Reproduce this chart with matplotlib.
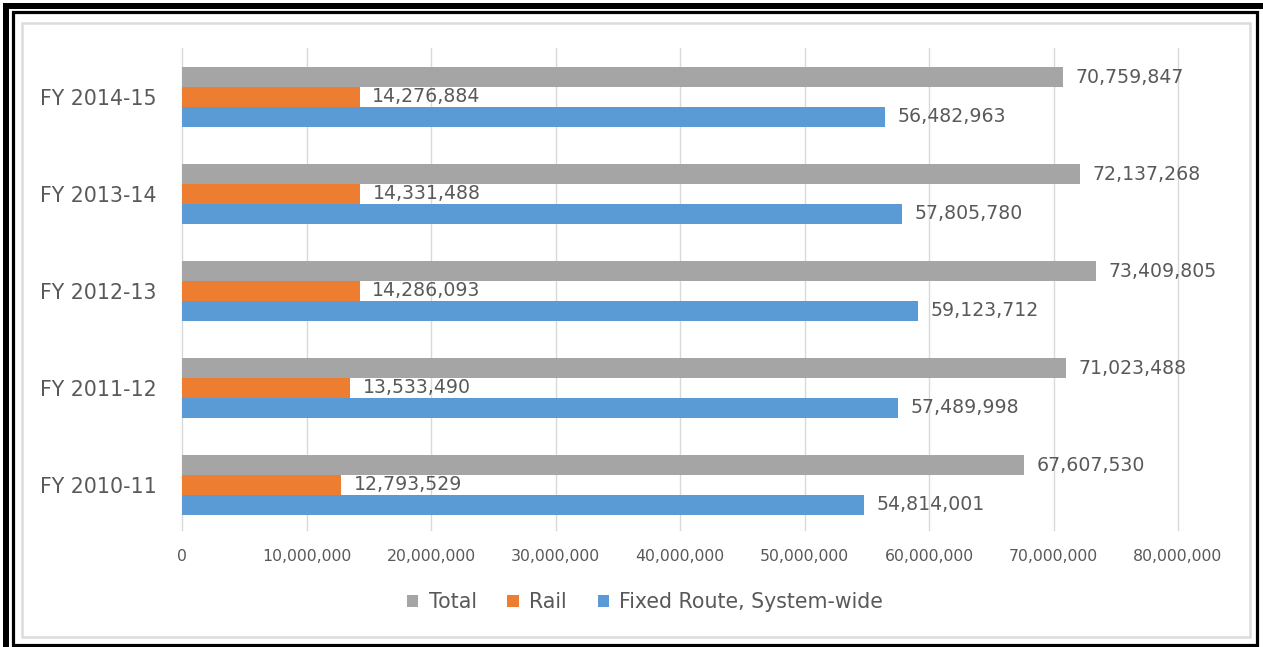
import matplotlib
matplotlib.use("Agg")
import matplotlib.pyplot as plt
from matplotlib.patches import Rectangle
from matplotlib.ticker import FuncFormatter, MultipleLocator

categories = ["FY 2010-11", "FY 2011-12", "FY 2012-13", "FY 2013-14", "FY 2014-15"]
total = [67607530, 71023488, 73409805, 72137268, 70759847]
rail = [12793529, 13533490, 14286093, 14331488, 14276884]
fixed_route = [54814001, 57489998, 59123712, 57805780, 56482963]

series_names = ["Total", "Rail", "Fixed Route, System-wide"]
colors = ["#A5A5A5", "#ED7D31", "#5B9BD5"]

plt.rcParams["font.family"] = ["DejaVu Sans"]
text_color = "#595959"

W, H = 1263, 647
fig = plt.figure(figsize=(W / 100, H / 100), dpi=100)
ax = fig.add_axes([182 / W, 1 - 530 / H, (1178 - 182) / W, (530 - 48) / H])

bh = 0.205
offsets = [bh, 0.0, -bh]
for vals, off, col, name in zip([total, rail, fixed_route], offsets, colors, series_names):
    ys = [i + off for i in range(len(categories))]
    ax.barh(ys, vals, height=bh, color=col, label=name, zorder=3)
    for y, v in zip(ys, vals):
        ax.annotate(f"{v:,}", xy=(v, y), xytext=(9, 0), textcoords="offset points",
                    va="center", ha="left", fontsize=13.6, color=text_color, zorder=4)

ax.set_xlim(0, 80000000)
ax.set_ylim(-0.464, 4.505)
ax.xaxis.set_major_locator(MultipleLocator(10000000))
ax.xaxis.set_major_formatter(FuncFormatter(lambda x, p: f"{int(x):,}"))
ax.set_yticks(range(len(categories)))
ax.set_yticklabels(categories)
ax.tick_params(axis="x", length=0, labelsize=11.3, labelcolor=text_color, pad=14)
ax.tick_params(axis="y", length=0, labelsize=14.8, labelcolor=text_color, pad=18)
ax.grid(axis="x", color="#D9D9D9", linewidth=1, zorder=0)
for gl in ax.get_xgridlines():
    gl.set_clip_on(False)
for s in ax.spines.values():
    s.set_visible(False)

handles, labels = ax.get_legend_handles_labels()
fig.legend(handles, labels, loc="center", bbox_to_anchor=(645 / W, 1 - 602 / H), ncol=3,
           frameon=False, fontsize=14.8, labelcolor=text_color, handlelength=0.55,
           handleheight=0.55, columnspacing=1.5, handletextpad=0.5)

# frame lines around the chart (pixel coordinates, origin top-left)
def px_rect(x0, y0, x1, y1, **kw):
    fig.patches.append(Rectangle((x0 / W, 1 - y1 / H), (x1 - x0) / W, (y1 - y0) / H,
                                 transform=fig.transFigure, **kw))

px_rect(22, 23, 1250, 637, fill=False, edgecolor="#DCDCDC", linewidth=1.8)
# inner thin border
px_rect(12.5, 11.5, 1257, 645, fill=False, edgecolor="black", linewidth=2.3)
# outer thick border, visible on the left and top
px_rect(3, 3, 9, H, facecolor="black", edgecolor="none")
px_rect(3, 3, W, 9, facecolor="black", edgecolor="none")

fig.savefig("out.png", dpi=100)
